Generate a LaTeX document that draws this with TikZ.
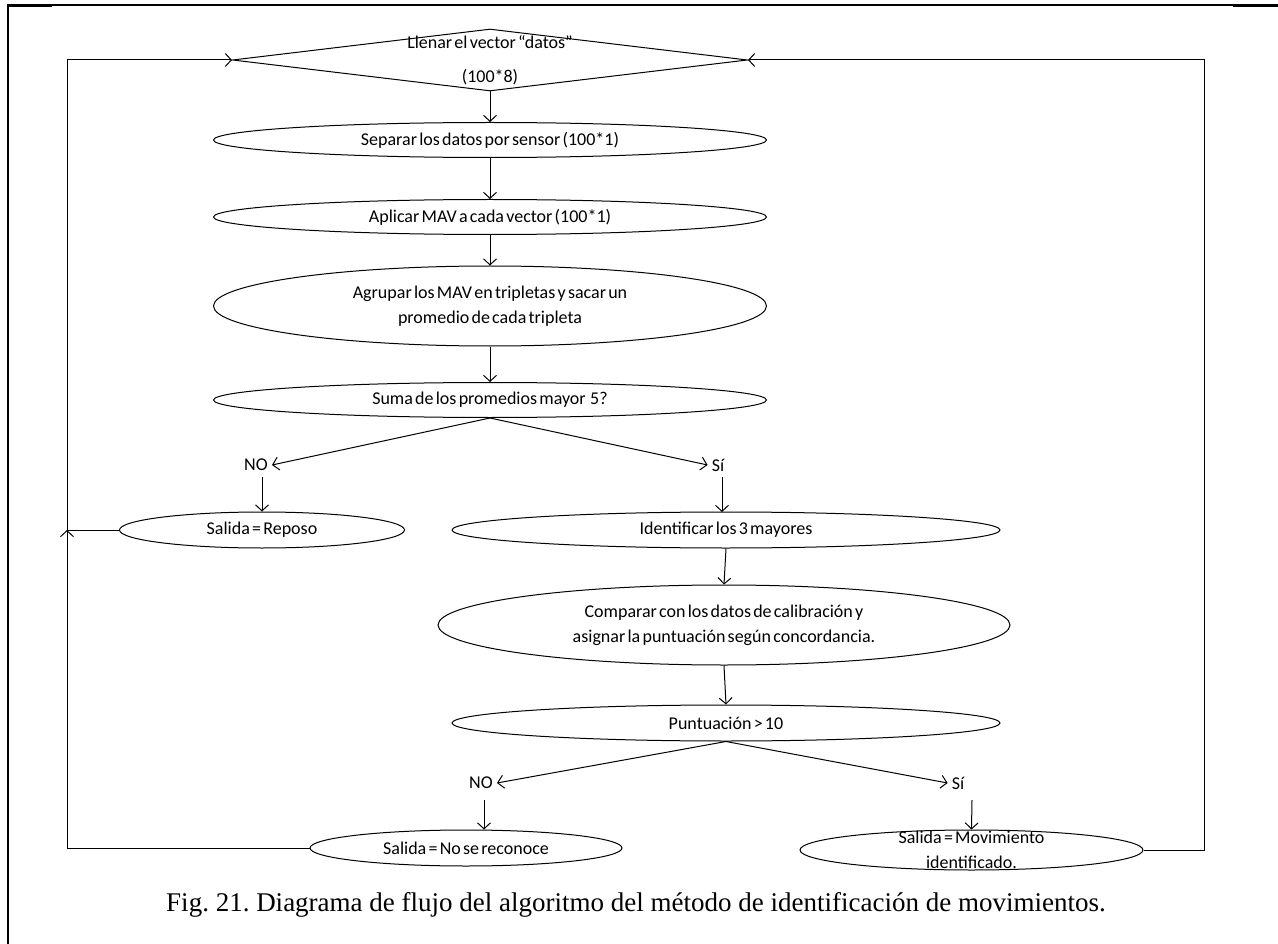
\documentclass[tikz,border=0pt]{standalone}
\usepackage{fontspec}
\setmainfont{Liberation Serif}
\newfontfamily\flowfont[WordSpace=0.55]{Carlito}
\usetikzlibrary{shapes.geometric,arrows.meta}

\newcommand\flowsize{\flowfont\fontsize{18}{25}\selectfont}
\newcommand\capsize{\fontsize{27}{32}\selectfont\frenchspacing}

\tikzset{
  proc/.style={ellipse, draw, line width=1pt, inner sep=0pt, align=center,
    font=\flowsize},
  decide/.style={diamond, draw, line width=1pt, inner sep=0pt},
  lbl/.style={font=\flowsize, inner sep=1pt},
  arr/.style={line width=1pt, -{Straight Barb[length=6pt,width=13pt,line width=1pt]}},
  frameline/.style={line width=1.5pt}
}

\begin{document}
\begin{tikzpicture}[x=1pt, y=-1pt]
  \useasboundingbox (0,0) rectangle (1278,944);

  % page frame
  \draw[line width=2.5pt] (8,4.5) -- (8,944);
  \draw[frameline] (8,5) -- (1278,5);
  \draw[line width=3pt] (8,5.5) -- (52,5.5);
  \draw[line width=3pt] (1233,5.5) -- (1278,5.5);

  % main column
  \node[decide, minimum width=515pt, minimum height=62pt,
        label={[align=center, font=\flowsize]center:Llenar el vector “datos”\\[9pt](100*8)}]
        (d) at (490,60) {};
  \node[proc, minimum width=553pt, minimum height=35pt] (sep) at (490,140) {Separar los datos por sensor (100*1)};
  \node[proc, minimum width=553pt, minimum height=35pt] (mav) at (490,217) {Aplicar MAV a cada vector (100*1)};
  \node[proc, minimum width=553pt, minimum height=80pt] (agr) at (490,306)
        {Agrupar los MAV en tripletas y sacar un\\promedio de cada tripleta};
  \node[proc, minimum width=553pt, minimum height=35pt] (suma) at (490,400) {Suma de los promedios mayor \ 5?};

  % first decision branches
  \node[lbl] (no1) at (256,465) {NO};
  \node[lbl] (si1) at (718,465) {Sí};
  \node[proc, minimum width=285pt, minimum height=36pt] (rep) at (262,530) {Salida = Reposo};
  \node[proc, minimum width=548pt, minimum height=36pt] (ide) at (726,530) {Identificar los 3 mayores};
  \node[proc, minimum width=572pt, minimum height=80pt] (comp) at (724,625)
        {Comparar con los datos de calibración y\\asignar la puntuación según concordancia.};
  \node[proc, minimum width=548pt, minimum height=36pt] (pun) at (726,723) {Puntuación > 10};

  % second decision branches
  \node[lbl] (no2) at (481,783) {NO};
  \node[lbl] (si2) at (958,783) {Sí};
  \node[proc, minimum width=312pt, minimum height=36pt] (nsr) at (466,848) {Salida = No se reconoce};
  \node[proc, minimum width=343pt, minimum height=40pt,
        label={[align=center, font=\flowsize]center:Salida = Movimiento\\identificado.}]
        (mov) at (971.5,850) {};

  % loop-back points
  \coordinate (jl) at (67,530);
  \coordinate (rr) at (1204,60);

  % connectors
  \draw[arr] (d.south) -- (sep.north);
  \draw[arr] (sep.south) -- (mav.north);
  \draw[arr] (mav.south) -- (agr.north);
  \draw[arr] (agr.south) -- (suma.north);
  \draw[arr] (suma.south) -- ([xshift=3pt]no1.east);
  \draw[arr] (suma.south) -- ([xshift=-3pt]si1.west);
  \draw[arr] (no1.south -| rep.north) ++(0,5) -- (rep.north);
  \draw[arr] (si1.south -| 722,0) ++(0,5) -- (722,512);
  \draw[arr] (ide.south) -- (comp.north);
  \draw[arr] (comp.south) -- (pun.north);
  \draw[arr] (pun.south) -- ([xshift=3pt]no2.east);
  \draw[arr] (pun.south) -- ([xshift=-3pt]si2.west);
  \draw[arr] (484,800) -- (nsr.north -| 484,0);
  \draw[arr] (972,800) -- (mov.north);

  % loops back to the start
  \draw[arr] (nsr.west) -| (jl);
  \draw[arr] (rep.west) -- (jl) |- (d.west);
  \draw[arr] (mov.east) -| (rr) -- (d.east);

  % caption
  \node[font=\capsize, inner sep=0pt] (cap) at (636,905)
        {Fig. 21. Diagrama de flujo del algoritmo del método de identificación de movimientos.};
\end{tikzpicture}
\end{document}
